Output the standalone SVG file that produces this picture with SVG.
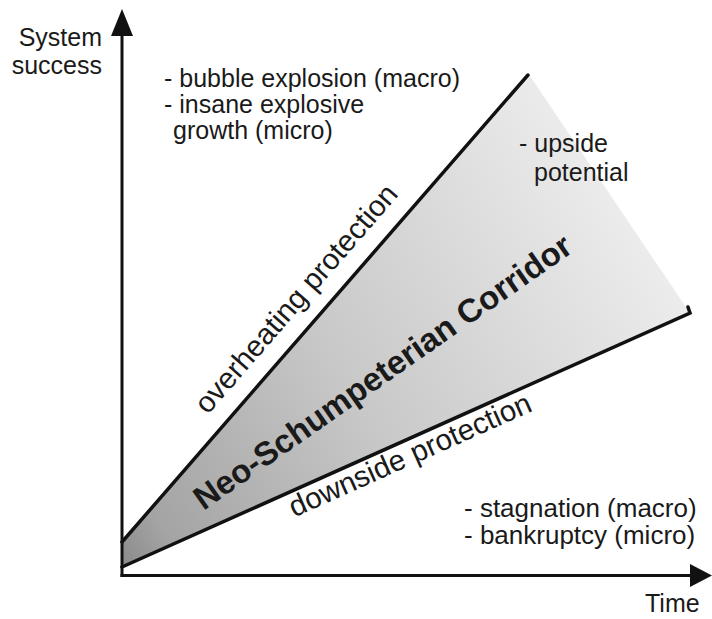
<svg xmlns="http://www.w3.org/2000/svg" width="712" height="619" viewBox="0 0 712 619">
<style>
text{font-family:"Liberation Sans",Arial,Helvetica,sans-serif;fill:#1a1a1a}
.t{font-size:25px}
.t2{font-size:26px}
.r{font-size:29.5px}
.b{font-size:33px;font-weight:bold}
.ln{stroke:#111;stroke-width:3.5;fill:none;stroke-linecap:round}
.ax{stroke:#111;stroke-width:3;fill:none}
</style>
<defs>
<linearGradient id="g" gradientUnits="userSpaceOnUse" x1="122" y1="560" x2="660" y2="230">
<stop offset="0" stop-color="#8c8c8c"/>
<stop offset="0.08" stop-color="#a4a4a4"/>
<stop offset="0.45" stop-color="#c8c8c8"/>
<stop offset="1" stop-color="#eeeeee"/>
</linearGradient>
</defs>
<rect width="712" height="619" fill="#fff"/>
<g id="corridor">
<polygon points="122,542 530,76 690,313 122,567" fill="url(#g)"/>
<path class="ln" d="M122,542 L528,75"/>
<path class="ln" d="M122,567 L690,313 L688,307"/>
</g>
<g id="axes">
<line class="ax" x1="122" y1="577" x2="122" y2="32"/>
<polygon points="122,9 111,36 133,36" fill="#111"/>
<line class="ax" x1="120.5" y1="575.5" x2="692" y2="575.5"/>
<polygon points="712,575.5 690,564 690,587" fill="#111"/>
</g>
<g id="labels">
<text class="t" x="102" y="46" text-anchor="end">System</text>
<text class="t" x="102" y="74" text-anchor="end">success</text>
<text class="t" x="164" y="87">- bubble explosion (macro)</text>
<text class="t" x="164" y="113">- insane explosive</text>
<text class="t" x="173" y="139">growth (micro)</text>
<text class="t" x="519" y="152">- upside</text>
<text class="t" x="534" y="181">potential</text>
<text class="t2" x="464" y="517">- stagnation (macro)</text>
<text class="t2" x="464" y="544">- bankruptcy (micro)</text>
<text class="t" x="645" y="612">Time</text>
<text class="r" text-anchor="middle" transform="translate(303.5,305) rotate(-49)">overheating protection</text>
<text class="r" text-anchor="middle" transform="translate(414,464) rotate(-24.1)">downside protection</text>
<text class="b" text-anchor="middle" transform="translate(389,381) rotate(-35)">Neo-Schumpeterian Corridor</text>
</g>
</svg>
